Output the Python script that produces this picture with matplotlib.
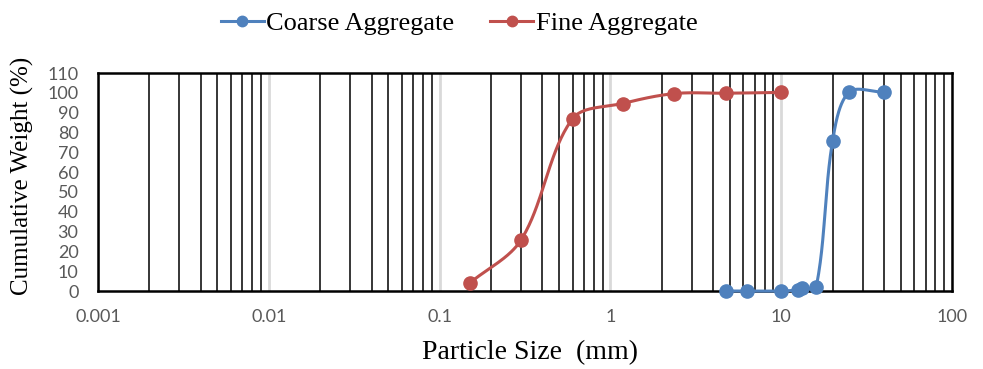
import numpy as np
import matplotlib
matplotlib.use("Agg")
import matplotlib.pyplot as plt
from matplotlib.ticker import FixedLocator, NullFormatter

# Data
coarse_size = [4.75, 6.3, 10, 12.5, 13.2, 16, 20, 25, 40]
coarse_pass = [0, 0, 0, 0.6, 1.7, 1.8, 75.8, 100.4, 100.2]
fine_size = [0.15, 0.3, 0.6, 1.18, 2.36, 4.75, 10]
fine_pass = [4, 25.8, 86.9, 94.6, 99.6, 99.8, 100.2]
xtick_vals = [0.001, 0.01, 0.1, 1, 10, 100]
xtick_labels = ["0.001", "0.01", "0.1", "1", "10", "100"]
ytick_vals = list(range(0, 111, 10))

BLUE = "#4F81BD"
RED = "#C0504D"
GRAY = "#595959"

PX_DEC = 171.0   # pixels per decade
PX_Y = 218.0 / 110.0


def smooth(xs, ys, n=40):
    # Excel-like smoothing in pixel space, tangent scaled by segment lengths
    P = np.column_stack([np.log10(np.asarray(xs, float)) * PX_DEC,
                         np.asarray(ys, float) * PX_Y])
    m = len(P)
    out = []
    t = np.linspace(0, 1, n)
    for i in range(m - 1):
        p1, p2 = P[i], P[i + 1]
        p0 = P[i - 1] if i > 0 else P[i]
        p3 = P[i + 2] if i + 2 < m else P[i + 1]
        l01 = np.linalg.norm(p1 - p0)
        l12 = np.linalg.norm(p2 - p1)
        l23 = np.linalg.norm(p3 - p2)
        f = 1.0 / 3.0
        c1 = p1 + (p2 - p0) * f * (l12 / (l01 + l12) if l01 + l12 > 0 else 0)
        c2 = p2 - (p3 - p1) * f * (l12 / (l12 + l23) if l12 + l23 > 0 else 0)
        seg = ((1 - t) ** 3)[:, None] * p1 + (3 * (1 - t) ** 2 * t)[:, None] * c1 \
            + (3 * (1 - t) * t ** 2)[:, None] * c2 + (t ** 3)[:, None] * p2
        out.append(seg)
    S = np.vstack(out)
    return 10 ** (S[:, 0] / PX_DEC), S[:, 1] / PX_Y


fig = plt.figure(figsize=(9.83, 3.69), dpi=100)
ax = fig.add_axes([98 / 983, 1 - 291 / 369, (952 - 98) / 983, (291 - 73) / 369])
ax.set_xscale("log")
ax.set_xlim(0.001, 100)
ax.set_ylim(0, 110)

# Gridlines
minor = [m * 10.0 ** e for e in range(-3, 2) for m in range(2, 10)]
ax.xaxis.set_minor_locator(FixedLocator(minor))
ax.xaxis.set_minor_formatter(NullFormatter())
ax.set_xticks(xtick_vals)
ax.set_xticklabels(xtick_labels)
ax.set_yticks(ytick_vals)
ax.grid(True, which="minor", axis="x", color="black", lw=1.1, zorder=0)
ax.grid(True, which="major", axis="x", color="#D9D9D9", lw=2.0, zorder=0)
ax.set_axisbelow(True)
ax.tick_params(which="both", length=0)
ax.tick_params(axis="y", labelsize=13, labelcolor=GRAY, pad=14)
ax.tick_params(axis="x", labelsize=13, labelcolor=GRAY, pad=13)
for lab in ax.get_xticklabels() + ax.get_yticklabels():
    lab.set_family("Lato")
for s in ax.spines.values():
    s.set_linewidth(1.8)
    s.set_color("black")
    s.set_zorder(3)

sx, sy = smooth(coarse_size, coarse_pass)
ax.plot(sx, sy, color=BLUE, lw=2.2, zorder=4, clip_on=False)
ax.plot(coarse_size, coarse_pass, "o", color=BLUE, ms=9.5, zorder=5, clip_on=False)
fx, fy = smooth(fine_size, fine_pass)
ax.plot(fx, fy, color=RED, lw=2.2, zorder=4, clip_on=False)
ax.plot(fine_size, fine_pass, "o", color=RED, ms=9.5, zorder=5, clip_on=False)

h1, = ax.plot([], [], "-o", color=BLUE, lw=2.2, ms=7.5)
h2, = ax.plot([], [], "-o", color=RED, lw=2.2, ms=7.5)
fig.legend([h1, h2], ["Coarse Aggregate", "Fine Aggregate"], loc="center",
           bbox_to_anchor=(459 / 983, 1 - 23 / 369), ncol=2, frameon=False,
           prop={"family": "Liberation Serif", "size": 19}, handlelength=1.63,
           handletextpad=0.1, columnspacing=1.35)

ax.set_xlabel("Particle Size  (mm)", family="Liberation Serif", fontsize=20, va="center")
ax.xaxis.set_label_coords((530 - 98) / 854, (291 - 353) / 218)
ax.set_ylabel("Cumulative Weight (%)", family="Liberation Serif", fontsize=18, va="center")
ax.yaxis.set_label_coords((22 - 98) / 854, (291 - 176) / 218)

fig.savefig("out.png", dpi=100)
